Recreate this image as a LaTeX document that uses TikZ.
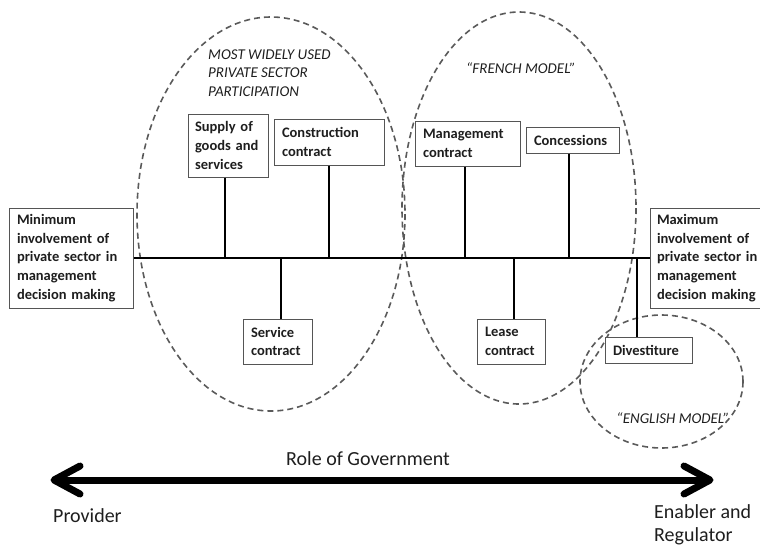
\documentclass[tikz,border=0pt]{standalone}
\usepackage{fontspec}
\setmainfont{Carlito}
\usetikzlibrary{arrows.meta}

\definecolor{boxline}{HTML}{555555}
\definecolor{dashline}{HTML}{5A5A5A}
\definecolor{ink}{HTML}{1E1E1E}

% box lines are set by hand: never hyphenate them
\lefthyphenmin=62
\righthyphenmin=62

\begin{document}
\begin{tikzpicture}[x=1pt,y=-1pt,
  box/.style={draw=boxline, line width=1pt, fill=white, text=ink,
    align=left, inner xsep=8pt, inner ysep=0pt,
    font=\fontsize{14.5}{18.7}\selectfont\bfseries},
  zone/.style={draw=dashline, line width=1.6pt, dash pattern=on 6pt off 4pt},
  zonelabel/.style={text=ink, align=left, inner sep=0pt,
    font=\fontsize{15}{18.5}\selectfont\itshape},
  stem/.style={draw=black, line width=1.6pt},
  axislabel/.style={text=ink, align=left, inner sep=0pt,
    font=\fontsize{20}{23}\selectfont}
]
\useasboundingbox (0,0) rectangle (760,547);

% dashed groupings
\draw[zone] (271,214) ellipse [x radius=134, y radius=197];
\draw[zone] (519,208) ellipse [x radius=117, y radius=196];
\draw[zone] (661.5,381.5) ellipse [x radius=81.5, y radius=66.5];

% group captions
\node[zonelabel, anchor=west] (widely) at (208,73)
  {\mbox{MOST WIDELY USED}\\\mbox{PRIVATE SECTOR}\\PARTICIPATION};
\node[zonelabel] (french) at (521,68) {“FRENCH MODEL”};
\node[zonelabel] (english) at (673,418) {“ENGLISH MODEL”};

% end boxes of the spectrum
\node[box, text width=108pt, minimum height=100pt] (minbox) at (71,258)
  {Minimum\\\mbox{involvement of}\\\mbox{private sector in}\\management\\\mbox{decision making}};
\node[box, text width=108pt, inner xsep=7pt, minimum height=100pt] (maxbox) at (711,258)
  {Maximum\\\mbox{involvement of}\\\mbox{private sector in}\\management\\\mbox{decision making}};

% options along the spectrum
\node[box, text width=66pt, inner xsep=7pt, minimum height=63pt] (supply) at (228,145.5)
  {\mbox{Supply of}\\\mbox{goods and}\\services};
\node[box, text width=94pt, minimum height=46pt] (constr) at (329,142)
  {Construction\\contract};
\node[box, text width=53pt, minimum height=45pt] (service) at (277.5,341.5)
  {Service\\contract};
\node[box, text width=89pt, minimum height=45pt] (mgmt) at (467.5,143.5)
  {Management\\contract};
\node[box, text width=77pt, minimum height=26pt] (conc) at (572.5,140)
  {Concessions};
\node[box, text width=52pt, minimum height=45pt] (lease) at (511,341.5)
  {Lease\\contract};
\node[box, text width=71pt, minimum height=26pt] (divest) at (648.5,350)
  {Divestiture};

% spectrum line
\draw[stem] (minbox.east) -- (maxbox.west);

% stems from each option to the spectrum
\coordinate (s1) at ([xshift=-3pt]supply.south);
\coordinate (s2) at (constr.south);
\coordinate (s3) at ([xshift=3.5pt]service.north);
\coordinate (s4) at ([xshift=-2.5pt]mgmt.south);
\coordinate (s5) at ([xshift=-3.5pt]conc.south);
\coordinate (s6) at ([xshift=3pt]lease.north);
\coordinate (s7) at ([xshift=-11.5pt]divest.north);
\foreach \s in {s1,s2,s3,s4,s5,s6,s7}
  \draw[stem] (\s) -- (\s |- minbox.east);

% role of government axis
\coordinate (provider end) at (54,480);
\coordinate (enabler end) at (710,480);
\draw[line width=7pt, line cap=round, line join=round]
  ([xshift=26pt,yshift=-14pt]provider end) -- (provider end) -- ([xshift=26pt,yshift=14pt]provider end);
\draw[line width=7pt, line cap=round, line join=round]
  ([xshift=-26pt,yshift=-14pt]enabler end) -- (enabler end) -- ([xshift=-26pt,yshift=14pt]enabler end);
\draw[line width=7pt] ([xshift=3pt]provider end) -- ([xshift=-3pt]enabler end);

\node[axislabel] (role) at (368,459) {Role of Government};
\node[axislabel, anchor=west] (provider) at (53,516) {Provider};
\node[axislabel, anchor=north west] (enabler) at (654,504) {\mbox{Enabler and}\\Regulator};
\end{tikzpicture}
\end{document}
